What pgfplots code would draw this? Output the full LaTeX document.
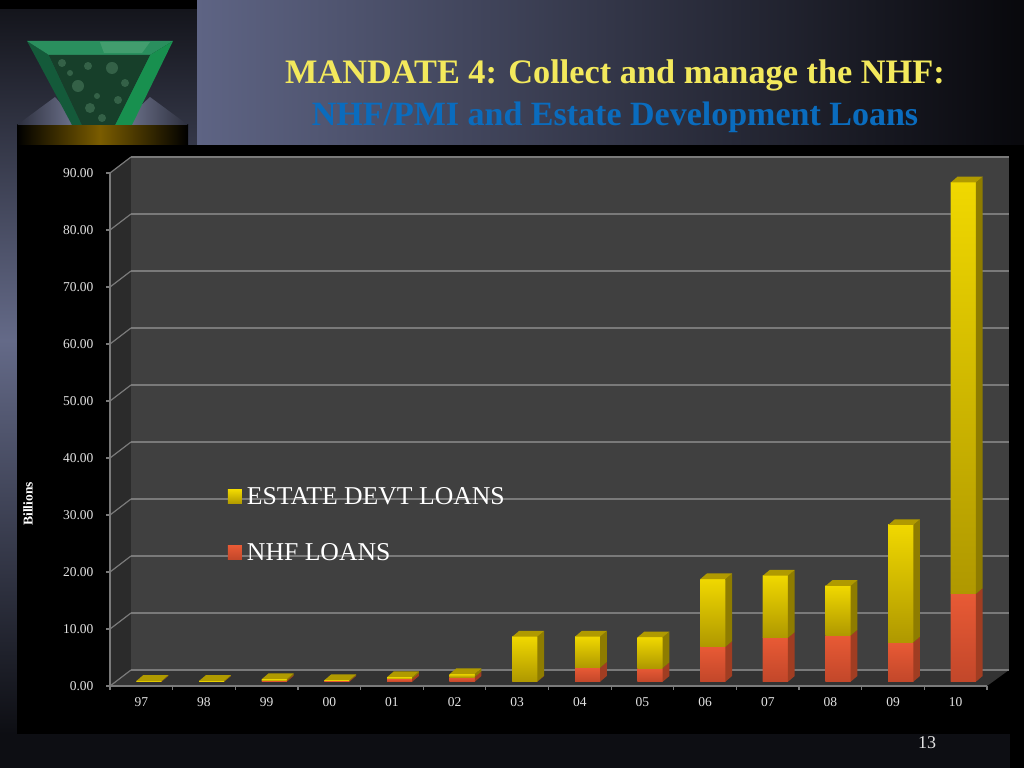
\documentclass[border=0pt]{standalone}
\usepackage{fontspec}
\setmainfont{Liberation Serif}
\usepackage{pgfplots}
\usepackage{pgfplotstable}
\pgfplotsset{compat=1.18}

\definecolor{wall}{HTML}{404040}
\definecolor{sidewall}{HTML}{2B2B2B}
\definecolor{floorc}{HTML}{333333}
\definecolor{gridc}{HTML}{7A7A7A}
\definecolor{ticktext}{HTML}{E2E2E2}
\definecolor{yhi}{HTML}{F0D800}
\definecolor{ylo}{HTML}{AF9800}
\definecolor{yside}{HTML}{8E7C00}
\definecolor{ytop}{HTML}{B09A00}
\definecolor{rhi}{HTML}{E85A35}
\definecolor{rlo}{HTML}{C2472A}
\definecolor{rside}{HTML}{A03D22}
\definecolor{bandc}{HTML}{0D0E13}
\definecolor{slatea}{HTML}{646A88}
\definecolor{slateb}{HTML}{14151C}
\definecolor{gold}{HTML}{7A5C00}
\definecolor{emtop}{HTML}{2A8F5E}
\definecolor{emleft}{HTML}{145A3A}
\definecolor{emright}{HTML}{18904F}
\definecolor{emmid}{HTML}{173F2A}
\definecolor{emlight}{HTML}{8CC8A0}

% year nhf estate (billions)
\pgfplotstableread{
id nhf estate
0 0.05 0.10
1 0.02 0.12
2 0.20 0.25
3 0.15 0.12
4 0.50 0.30
5 0.80 0.55
6 0.05 7.85
7 2.45 5.45
8 2.40 5.40
9 6.10 11.90
10 7.70 10.90
11 8.10 8.70
12 6.90 20.60
13 15.40 72.20
}\loans

% shaded front, side and top faces of one stacked column
\newcommand{\barfaces}[1]{%
  \pgfplotstablegetelem{#1}{nhf}\of\loans \let\nhfval\pgfplotsretval
  \pgfplotstablegetelem{#1}{estate}\of\loans \let\estval\pgfplotsretval
  \pgfmathsetmacro\xl{#1-0.2}\pgfmathsetmacro\xr{#1+0.2}
  \pgfmathsetmacro\xm{\xl+0.107}\pgfmathsetmacro\xs{\xr+0.107}
  \pgfmathsetmacro\midy{\nhfval}\pgfmathsetmacro\topy{\nhfval+\estval}
  \pgfmathsetmacro\midd{\midy+1}\pgfmathsetmacro\topd{\topy+1}
  \edef\tmp{\noexpand\addplot[draw=none,top color=rhi,bottom color=rlo] coordinates
    {(\xl,0) (\xr,0) (\xr,\midy) (\xl,\midy)};
    \noexpand\addplot[draw=none,top color=yhi,bottom color=ylo] coordinates
    {(\xl,\midy) (\xr,\midy) (\xr,\topy) (\xl,\topy)};
    \noexpand\addplot[draw=none,fill=rside] coordinates
    {(\xr,0) (\xs,1) (\xs,\midd) (\xr,\midy)};
    \noexpand\addplot[draw=none,fill=yside] coordinates
    {(\xr,\midy) (\xs,\midd) (\xs,\topd) (\xr,\topy)};
    \noexpand\addplot[draw=none,fill=ytop] coordinates
    {(\xl,\topy) (\xr,\topy) (\xs,\topd) (\xm,\topd)};}\tmp
}

\begin{document}
\begin{tikzpicture}[x=1pt,y=1pt]
\useasboundingbox (0,0) rectangle (1024,768);
% slide background
\fill[black] (0,0) rectangle (1024,768);
\shade[top color=slateb,bottom color=slatea] (0,428) rectangle (197,758);
\shade[top color=slatea,bottom color=bandc] (0,34) rectangle (197,428);
\fill[bandc] (0,0) rectangle (197,34);
\shade[left color={rgb,255:red,94;green,100;blue,132},right color={rgb,255:red,8;green,8;blue,12}] (197,623) rectangle (1024,768);
\fill[bandc] (197,0) rectangle (1010,34);
% logo
\shade[left color=black,right color=gold] (17,623) rectangle (100,643);
\shade[left color=gold,right color=black] (100,623) rectangle (188,643);
\shade[left color=slateb!70!slatea,right color=slatea!90!white] (17,643) -- (55,671) -- (80,643) -- cycle;
\shade[left color=slatea!90!white,right color=slateb!70!slatea] (120,643) -- (150,671) -- (188,643) -- cycle;
\fill[emleft] (27,727) -- (49,713) -- (82,643) -- (72,643) -- cycle;
\fill[emtop] (27,727) -- (173,727) -- (150,713) -- (49,713) -- cycle;
\fill[emright] (173,727) -- (150,713) -- (115,643) -- (132,643) -- cycle;
\fill[emmid] (49,713) -- (150,713) -- (115,643) -- (82,643) -- cycle;
\fill[emlight,opacity=.25] (62,705) circle (4) (78,682) circle (6) (90,660) circle (5) (112,700) circle (6) (125,685) circle (4) (102,650) circle (4) (88,702) circle (4) (70,695) circle (3) (97,672) circle (3) (118,668) circle (4);
\fill[emlight,opacity=.25] (100,726) -- (150,726) -- (142,715) -- (104,715) -- cycle;
% title
\node[font=\bfseries\fontsize{34.3}{38}\selectfont,text={rgb,255:red,243;green,233;blue,92}] at (615,693) {MANDATE 4: Collect and manage the NHF:};
\node[font=\bfseries\fontsize{34}{38}\selectfont,text={rgb,255:red,10;green,108;blue,190}] at (615,651) {NHF/PMI and Estate Development Loans};
\node[font=\fontsize{18}{22}\selectfont,text=ticktext] at (927,25) {13};
% chart panel
\fill[black] (17,34) rectangle (1010,623);
\fill[sidewall] (110,82) -- (131,98) -- (131,611) -- (110,595) -- cycle;
\fill[floorc] (110,82) -- (131,98) -- (1009,98) -- (987,82) -- cycle;
\foreach \k in {0,...,9} \draw[gridc,line width=1.2pt] (110,82+57*\k) -- (131,98+57*\k);

% back wall with gridlines
\begin{axis}[at={(131pt,98pt)},anchor=south west,scale only axis,width=878pt,height=513pt,
  xmin=0,xmax=1,ymin=0,ymax=90,xtick=\empty,ytick={0,10,...,90},yticklabel=\empty,
  major tick length=0pt,ymajorgrids,axis line style={draw=none},
  grid style={gridc,line width=1.2pt},axis background/.style={fill=wall}]
\end{axis}

% front frame, ticks and tick labels
\begin{axis}[at={(110pt,82pt)},anchor=south west,scale only axis,width=877pt,height=513pt,
  xmin=-0.5,xmax=13.5,ymin=0,ymax=90,axis x line*=bottom,axis y line*=left,
  axis line style={gridc,line width=1.2pt,-},
  xtick={0,...,13},xticklabels={97,98,99,00,01,02,03,04,05,06,07,08,09,10},
  minor xtick={-0.5,0.5,...,13.5},ytick={0,10,...,90},
  major x tick style={draw=none},
  major y tick style={gridc,line width=1.2pt},minor x tick style={gridc,line width=1.2pt},
  tick align=outside,major tick length=4pt,minor tick length=4pt,
  tick label style={font=\fontsize{13.5}{15}\selectfont,text=ticktext},
  yticklabel style={xshift=-9pt},xticklabel style={yshift=-4pt},
  /pgf/number format/.cd,fixed,fixed zerofill,precision=2,assume math mode=true,/pgfplots/.cd,
  ylabel={Billions},
  ylabel style={at={(axis description cs:-0.0935,0.355)},anchor=center,
    font=\bfseries\fontsize{13.5}{15}\selectfont,text=white}]
\end{axis}

% columns, set back from the front frame
\begin{axis}[at={(117.7pt,86.3pt)},anchor=south west,scale only axis,width=877pt,height=513pt,
  xmin=-0.5,xmax=13.5,ymin=0,ymax=90,hide axis,clip=false,
  ybar stacked,bar width=25pt,
  reverse legend,
  legend style={at={(axis cs:1.26,34.4)},anchor=north west,draw=none,fill=none,
    inner sep=0pt,outer sep=0pt,text=white,font=\fontsize{25.7}{28}\selectfont,
    row sep=33pt,/tikz/every odd column/.append style={column sep=3pt}},
  legend cell align=left,
  legend image code/.code={\fill[#1] (0pt,-7pt) rectangle (14pt,7pt);}]
\addplot[draw=none,top color=rhi,bottom color=rlo,fill=rhi] table[x=id,y=nhf] {\loans};
\addplot[draw=none,top color=yhi,bottom color=ylo,fill=yhi] table[x=id,y=estate] {\loans};
\legend{NHF LOANS,ESTATE DEVT LOANS}
\end{axis}

% shaded faces over the columns
\begin{axis}[at={(117.7pt,86.3pt)},anchor=south west,scale only axis,width=877pt,height=513pt,
  xmin=-0.5,xmax=13.5,ymin=0,ymax=90,hide axis,clip=false]
\pgfplotsinvokeforeach{0,...,13}{\barfaces{#1}}
\end{axis}
\end{tikzpicture}
\end{document}
